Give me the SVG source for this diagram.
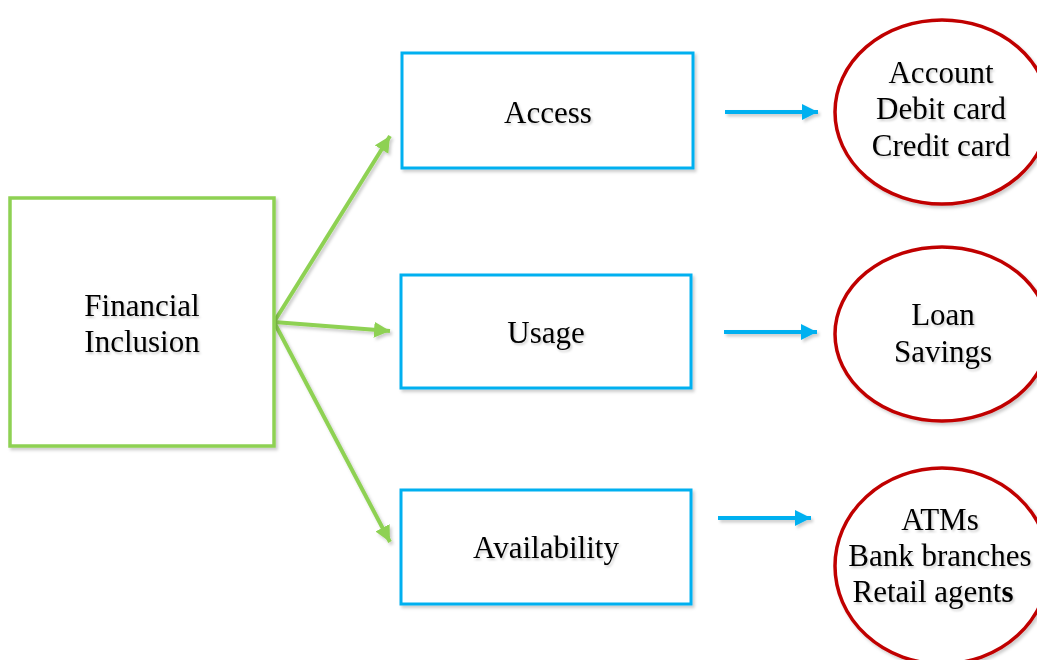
<svg xmlns="http://www.w3.org/2000/svg" width="1037" height="660" viewBox="0 0 1037 660">
<style>
.t{font-family:"Liberation Serif","Times New Roman",serif;font-size:31px;fill:#000;text-anchor:middle;filter:url(#ts)}
.g{fill:#fff;stroke:#8ED153;stroke-width:3.5}
.b{fill:#fff;stroke:#00B0F0;stroke-width:3}
.r{fill:#fff;stroke:#C00000;stroke-width:3.5}
.ga{stroke:#8ED153;stroke-width:4;fill:none;marker-end:url(#mg)}
.ba{stroke:#00B0F0;stroke-width:4;fill:none;marker-end:url(#mb)}
</style>
<defs>
<filter id="ts" x="-10%" y="-20%" width="130%" height="160%">
<feDropShadow dx="1.5" dy="2" stdDeviation="1.2" flood-color="#000" flood-opacity="0.2"/>
</filter>
<filter id="sh" x="-10%" y="-10%" width="130%" height="130%">
<feDropShadow dx="2" dy="2.5" stdDeviation="1.5" flood-color="#000" flood-opacity="0.2"/>
</filter>
<marker id="mg" markerUnits="userSpaceOnUse" markerWidth="18" markerHeight="18" refX="16" refY="8" orient="auto">
<path d="M0,0 L16,8 L0,16 Z" fill="#8ED153"/>
</marker>
<marker id="mb" markerUnits="userSpaceOnUse" markerWidth="18" markerHeight="18" refX="16" refY="8" orient="auto">
<path d="M0,0 L16,8 L0,16 Z" fill="#00B0F0"/>
</marker>
</defs>
<rect width="1037" height="660" fill="#fff"/>
<g id="connectors" filter="url(#sh)">
<line class="ga" x1="274" y1="322" x2="390" y2="136"/>
<line class="ga" x1="274" y1="322" x2="390" y2="331"/>
<line class="ga" x1="274" y1="322" x2="390" y2="542"/>
<line class="ba" x1="725" y1="112" x2="818" y2="112"/>
<line class="ba" x1="724" y1="332" x2="817" y2="332"/>
<line class="ba" x1="718" y1="518" x2="811" y2="518"/>
</g>
<g id="financial-inclusion">
<rect class="g" x="10" y="198" width="264" height="248" filter="url(#sh)"/>
<text class="t" x="142" y="316">Financial</text>
<text class="t" x="142" y="352">Inclusion</text>
</g>
<g id="access">
<rect class="b" x="402" y="53" width="291" height="115" filter="url(#sh)"/>
<text class="t" x="548" y="123">Access</text>
</g>
<g id="usage">
<rect class="b" x="401" y="275" width="290" height="113" filter="url(#sh)"/>
<text class="t" x="546" y="343">Usage</text>
</g>
<g id="availability">
<rect class="b" x="401" y="490" width="290" height="114" filter="url(#sh)"/>
<text class="t" x="546" y="558">Availability</text>
</g>
<g id="access-items">
<ellipse class="r" cx="942" cy="112" rx="107" ry="92" filter="url(#sh)"/>
<text class="t" x="941" y="83">Account</text>
<text class="t" x="941" y="119">Debit card</text>
<text class="t" x="941" y="156">Credit card</text>
</g>
<g id="usage-items">
<ellipse class="r" cx="942" cy="334" rx="107" ry="87" filter="url(#sh)"/>
<text class="t" x="943" y="325">Loan</text>
<text class="t" x="943" y="362">Savings</text>
</g>
<g id="availability-items">
<ellipse class="r" cx="942" cy="566" rx="107" ry="98" filter="url(#sh)"/>
<text class="t" x="940" y="530">ATMs</text>
<text class="t" x="940" y="566">Bank branches</text>
<text class="t" x="933" y="602">Retail agent<tspan font-weight="bold">s</tspan></text>
</g>
</svg>
